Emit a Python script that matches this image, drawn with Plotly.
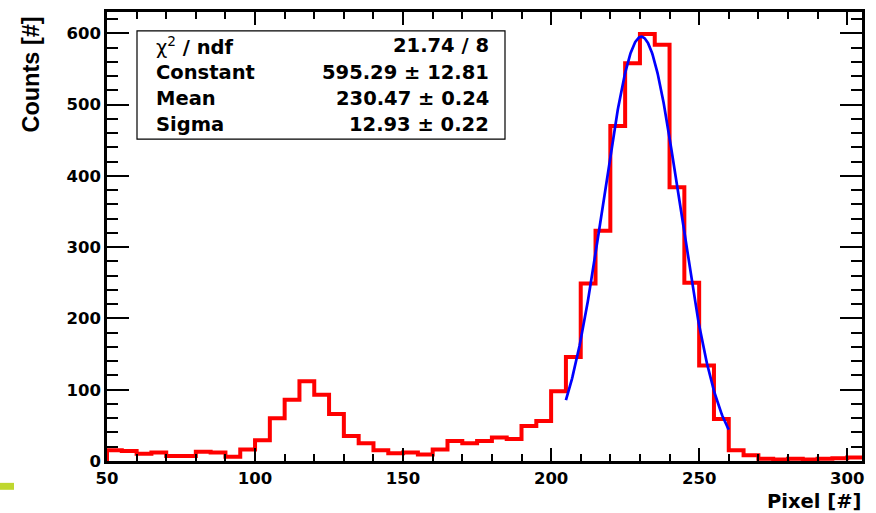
import numpy as np
import plotly.graph_objects as go

# Histogram: 5-pixel bins starting at 50
bin_lo = 50
bin_width = 5
counts = [15, 14, 10, 12, 7, 7, 13, 12, 6, 16,
          29, 60, 86, 112, 93, 66, 35, 25, 15, 11,
          12, 9, 16, 28, 25, 28, 33, 31, 49, 56,
          98, 146, 249, 323, 470, 558, 599, 584, 384, 250,
          134, 59, 15, 8, 3, 2, 3, 2, 3, 4, 5]

# Gaussian fit result
fit_const, fit_const_err = 595.29, 12.81
fit_mean, fit_mean_err = 230.47, 0.24
fit_sigma, fit_sigma_err = 12.93, 0.22
chi2, ndf = 21.74, 8
fit_range = (205, 260)

x_ticks = [50, 100, 150, 200, 250, 300]
y_ticks = [0, 100, 200, 300, 400, 500, 600]

edges = bin_lo + bin_width * np.arange(len(counts) + 1)
step_x = [edges[0]] + list(edges)
step_y = [0] + list(counts) + [counts[-1]]

xf = np.linspace(fit_range[0], fit_range[1], 300)
yf = fit_const * np.exp(-0.5 * ((xf - fit_mean) / fit_sigma) ** 2)

fig = go.Figure()
fig.add_trace(go.Scatter(x=step_x, y=step_y, mode="lines", line_shape="hv",
                         line=dict(color="#ff0000", width=4), showlegend=False,
                         hoverinfo="skip"))
fig.add_trace(go.Scatter(x=xf, y=yf, mode="lines",
                         line=dict(color="#0000ff", width=2.7), showlegend=False,
                         hoverinfo="skip"))

tick_font = dict(family="DejaVu Sans", size=16.5, color="black", weight="bold")
fig.update_xaxes(range=[50, 305], tickvals=x_ticks, ticktext=[str(v) for v in x_ticks],
                 ticks="inside", ticklen=13, tickwidth=1.5, tickcolor="black",
                 minor=dict(dtick=10, tick0=50, ticks="inside", ticklen=7, tickwidth=1.5,
                            tickcolor="black", showgrid=False),
                 showline=True, linecolor="black", linewidth=2.5, mirror="ticks",
                 showgrid=False, zeroline=False, tickfont=tick_font)
fig.update_yaxes(range=[0, 630], tickvals=y_ticks, ticktext=[str(v) for v in y_ticks],
                 ticks="inside", ticklen=22, tickwidth=1.5, tickcolor="black",
                 minor=dict(dtick=20, tick0=0, ticks="inside", ticklen=11, tickwidth=1.5,
                            tickcolor="black", showgrid=False),
                 showline=True, linecolor="black", linewidth=2.5, mirror="ticks",
                 showgrid=False, zeroline=False, tickfont=tick_font)

L, R, T, B = 107, 862, 9, 461
W, H = R - L, B - T


def px(xp):
    return (xp - L) / W


def py(yp):
    return (B - yp) / H


# Statistics box
fig.add_shape(type="rect", xref="paper", yref="paper",
              x0=px(137), x1=px(505), y0=py(137), y1=py(28),
              line=dict(color="black", width=1.2), fillcolor="white", layer="above")

box_font = dict(family="DejaVu Sans", size=19.5, color="black", weight="bold")
rows = [
    ("<span style='font-weight:normal'>χ<sup>2</sup></span> / ndf", f"{chi2:.2f} / {ndf}"),
    ("Constant", f"{fit_const:.2f} ± {fit_const_err:.2f}"),
    ("Mean", f"{fit_mean:.2f} ± {fit_mean_err:.2f}"),
    ("Sigma", f"{fit_sigma:.2f} ± {fit_sigma_err:.2f}"),
]
row_y = [43, 70, 96, 122]
for (label, value), yy in zip(rows, row_y):
    fig.add_annotation(text=label, xref="paper", yref="paper", x=px(154), y=py(yy),
                       xanchor="left", yanchor="middle", showarrow=False, font=box_font)
    fig.add_annotation(text=value, xref="paper", yref="paper", x=px(491), y=py(yy),
                       xanchor="right", yanchor="middle", showarrow=False, font=box_font)

# Axis titles, aligned to the axis ends
fig.add_annotation(text="Counts [#]", xref="paper", yref="paper", x=px(31), y=py(72),
                   xanchor="center", yanchor="middle", textangle=-90, showarrow=False,
                   font=dict(family="Liberation Sans", size=23.5, color="black", weight="bold"))
fig.add_annotation(text="Pixel [#]", xref="paper", yref="paper", x=px(863), y=py(502),
                   xanchor="right", yanchor="middle", showarrow=False,
                   font=dict(family="DejaVu Sans", size=19.5, color="black", weight="bold"))

# small marker at the lower left corner of the canvas
fig.add_shape(type="rect", xref="paper", yref="paper",
              x0=px(0), x1=px(14), y0=py(490), y1=py(483),
              line=dict(width=0), fillcolor="#bfd72f")

fig.update_layout(width=876, height=513, autosize=False,
                  margin=dict(l=L, r=876 - R, t=T, b=513 - B),
                  paper_bgcolor="white", plot_bgcolor="white", showlegend=False)

fig.write_html("out.html")
